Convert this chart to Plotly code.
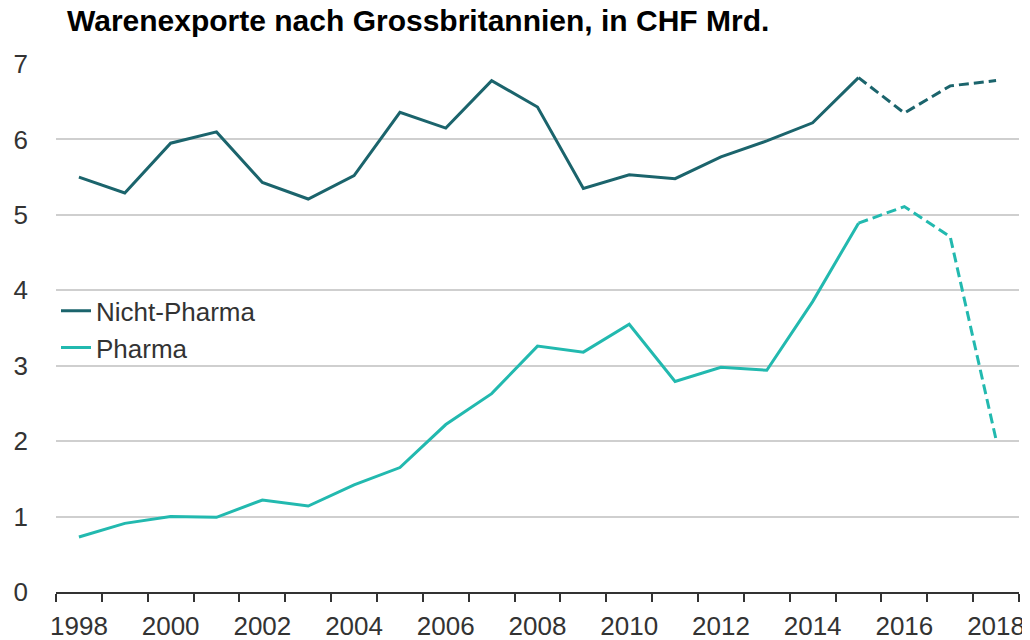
import plotly.graph_objects as go

years = list(range(1998, 2019))
nicht_pharma = [5.50, 5.29, 5.95, 6.10, 5.43, 5.21, 5.52, 6.36, 6.15, 6.78,
                6.43, 5.35, 5.53, 5.48, 5.77, 5.98, 6.22, 6.82, 6.35, 6.71, 6.78]
pharma = [0.73, 0.91, 1.00, 0.99, 1.22, 1.14, 1.42, 1.65, 2.22, 2.63,
          3.26, 3.18, 3.55, 2.79, 2.98, 2.94, 3.85, 4.89, 5.11, 4.71, 2.02]
split_year = 2015  # estimates after this year are dashed

x_tick_vals = list(range(1998, 2019, 2))
x_tick_text = [str(y) for y in x_tick_vals]
y_tick_vals = list(range(0, 8))

title_text = "Warenexporte nach Grossbritannien, in CHF Mrd."

COL_NP = "#1b646c"
COL_PH = "#22b9af"
FONT = "Liberation Sans, Arial, Helvetica, sans-serif"

# page body has an 8px margin, so the figure is drawn 8px smaller
W, H = 1022, 632

k = years.index(split_year)

fig = go.Figure()
fig.add_trace(go.Scatter(x=years[:k + 1], y=nicht_pharma[:k + 1], mode="lines",
                         name="Nicht-Pharma", line=dict(color=COL_NP, width=3)))
fig.add_trace(go.Scatter(x=years[:k + 1], y=pharma[:k + 1], mode="lines",
                         name="Pharma", line=dict(color=COL_PH, width=3)))
fig.add_trace(go.Scatter(x=years[k:], y=nicht_pharma[k:], mode="lines", showlegend=False,
                         line=dict(color=COL_NP, width=3, dash="10px,5px")))
fig.add_trace(go.Scatter(x=years[k:], y=pharma[k:], mode="lines", showlegend=False,
                         line=dict(color=COL_PH, width=3, dash="10px,5px")))

fig.update_layout(
    width=W, height=H,
    paper_bgcolor="white", plot_bgcolor="white",
    margin=dict(l=48, r=11, t=56, b=47.5, pad=0, autoexpand=False),
    font=dict(family=FONT, size=26, color="#333333"),
    title=dict(text="<b>" + title_text + "</b>", x=59 / W, xanchor="left",
               y=1 - 2 / H, yanchor="top",
               font=dict(family=FONT, size=30, color="#000000")),
    legend=dict(x=0.0, xanchor="left", y=0.577, yanchor="top",
                bgcolor="rgba(0,0,0,0)", tracegroupgap=0,
                font=dict(family=FONT, size=26, color="#333333")),
    showlegend=True,
)

fig.update_xaxes(
    range=[1997.5, 2018.5], tickvals=x_tick_vals, ticktext=x_tick_text,
    ticks="", showgrid=False, zeroline=False, automargin=False,
    showline=True, linecolor="#333333", linewidth=1.5,
    ticklabelstandoff=10,
    tickfont=dict(family=FONT, size=26, color="#333333"),
    minor=dict(tickvals=[y - 0.5 for y in years] + [years[-1] + 0.5],
               ticks="outside", ticklen=8, tickcolor="#333333", tickwidth=1.5,
               showgrid=False),
)
fig.update_yaxes(
    range=[0, 7], tickvals=y_tick_vals, ticks="", showline=False,
    zeroline=False, showgrid=True, gridcolor="#cfcfcf", gridwidth=1.5,
    automargin=False, ticklabelstandoff=27,
    tickfont=dict(family=FONT, size=26, color="#333333"),
)

fig.write_html("out.html")
